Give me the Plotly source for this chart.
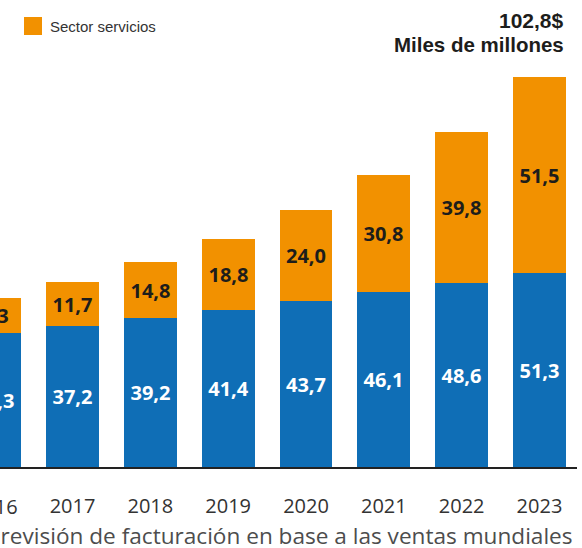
import plotly.graph_objects as go

years = [2016, 2017, 2018, 2019, 2020, 2021, 2022, 2023]
base_values = [35.3, 37.2, 39.2, 41.4, 43.7, 46.1, 48.6, 51.3]
services_values = [9.3, 11.7, 14.8, 18.8, 24.0, 30.8, 39.8, 51.5]
services_name = "Sector servicios"
total_label = "102,8$"
unit_label = "Miles de millones"
footer = "Previsión de facturación en base a las ventas mundiales"

BLUE = "#0F6EB6"
ORANGE = "#F29100"

W, H = 582, 548
ML, MR, MT, MB = 0, 5, 60, 81
PW, PH = W - ML - MR, H - MT - MB

x_range = [2016.068, 2023.482]
y_range = [0, 107.36]


def px_x(px):
    return (px - ML) / PW


def px_y(py):
    return (H - MB - py) / PH


def fmt(v):
    return f"{v:.1f}".replace(".", ",")


fig = go.Figure()
fig.add_trace(go.Bar(
    x=years, y=base_values, width=0.68, marker=dict(color=BLUE, line=dict(width=0)),
    text=[fmt(v) for v in base_values], textposition="inside", insidetextanchor="middle",
    textangle=0, insidetextfont=dict(family="Open Sans", size=20, color="white", weight="bold"),
    showlegend=False, cliponaxis=True,
))
fig.add_trace(go.Bar(
    x=years, y=services_values, width=0.68, marker=dict(color=ORANGE, line=dict(width=0)),
    text=[fmt(v) for v in services_values], textposition="inside", insidetextanchor="middle",
    textangle=0, insidetextfont=dict(family="Open Sans", size=20, color="#1d1d1b", weight="bold"),
    name=services_name, showlegend=False, cliponaxis=True,
))

annotations = [
    dict(text=total_label, xref="paper", yref="paper", x=px_x(566), y=px_y(20),
         xanchor="right", yanchor="middle", showarrow=False,
         font=dict(family="Liberation Sans", size=21, color="#1d1d1b", weight="bold")),
    dict(text=unit_label, xref="paper", yref="paper", x=px_x(566), y=px_y(45),
         xanchor="right", yanchor="middle", showarrow=False,
         font=dict(family="Liberation Sans", size=20.5, color="#1d1d1b", weight="bold")),
    dict(text=services_name, xref="paper", yref="paper", x=px_x(48), y=px_y(27),
         xanchor="left", yanchor="middle", showarrow=False,
         font=dict(family="Liberation Sans Narrow, Liberation Sans", size=15, color="#333333")),
    dict(text=footer, xref="paper", yref="paper", x=px_x(575), y=px_y(535),
         xanchor="right", yanchor="middle", showarrow=False,
         font=dict(family="Open Sans", size=22.6, color="#4d4d4d")),
    # first year label sits just outside the visible axis range
    dict(text=str(years[0]), xref="paper", yref="paper",
         x=(years[0] - x_range[0]) / (x_range[1] - x_range[0]), y=px_y(507),
         xanchor="center", yanchor="middle", showarrow=False,
         font=dict(family="Open Sans", size=20, color="#333333")),
]

shapes = [
    dict(type="rect", xref="paper", yref="paper", x0=px_x(24), x1=px_x(42),
         y0=px_y(35), y1=px_y(17), fillcolor=ORANGE, line=dict(width=0)),
]

fig.update_layout(
    width=W, height=H, margin=dict(l=ML, r=MR, t=MT, b=MB, pad=0),
    barmode="stack", bargap=0,
    paper_bgcolor="white", plot_bgcolor="white",
    separators=",.",
    annotations=annotations, shapes=shapes,
    xaxis=dict(range=x_range, tickvals=years, ticktext=[str(y) for y in years],
               showgrid=False, zeroline=False, showline=True, linecolor="#222222", linewidth=1.5,
               ticks="outside", ticklen=20, tickcolor="rgba(0,0,0,0)",
               tickfont=dict(family="Open Sans", size=20, color="#333333")),
    yaxis=dict(range=y_range, visible=False, showgrid=False, zeroline=False),
)

fig.write_html("out.html")
